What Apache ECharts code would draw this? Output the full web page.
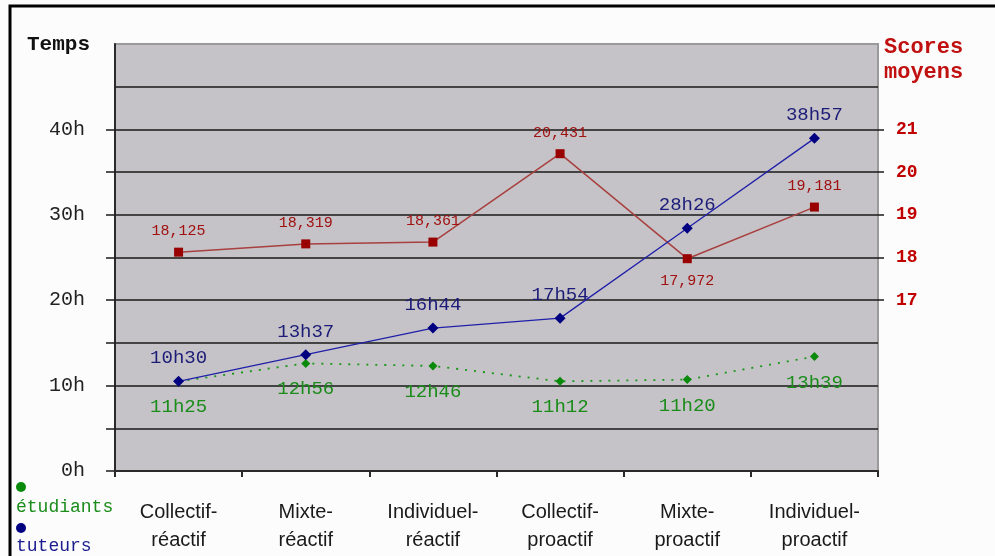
<!DOCTYPE html>
<html>
<head>
<meta charset="utf-8">
<script src="https://cdn.jsdelivr.net/npm/echarts@6/dist/echarts.min.js"></script>
<style>
  html, body { margin: 0; padding: 0; background: #fcfcfc; }
  #chart { width: 995px; height: 556px; }
</style>
</head>
<body>
<div id="chart"></div>
<script>
  // catégories (axe des x)
  var categories = ['Collectif-\nréactif', 'Mixte-\nréactif', 'Individuel-\nréactif',
    'Collectif-\nproactif', 'Mixte-\nproactif', 'Individuel-\nproactif'];

  // temps des tuteurs (heures décimales) et libellés
  var tuteursHours = [10.5, 13.617, 16.733, 17.9, 28.433, 38.95];
  var tuteursLabels = ['10h30', '13h37', '16h44', '17h54', '28h26', '38h57'];

  // temps des étudiants (position) et libellés
  var etudiantsHours = [10.5, 12.6, 12.3, 10.5, 10.7, 13.4];
  var etudiantsLabels = ['11h25', '12h56', '12h46', '11h12', '11h20', '13h39'];

  // scores moyens (axe de droite)
  var scores = [18.125, 18.319, 18.361, 20.431, 17.972, 19.181];

  // graduations
  var leftLabelValues = [0, 10, 20, 30, 40];
  var leftTickValues = [0, 5, 10, 15, 20, 25, 30, 35, 40];
  var rightLabelValues = [17, 18, 19, 20, 21];

  var mono = '"Liberation Mono", "DejaVu Sans Mono", monospace';

  var chart = echarts.init(document.getElementById('chart'));

  var option = {
    animation: false,
    backgroundColor: '#fcfcfc',
    grid: {
      left: 115, right: 117, top: 44, bottom: 85,
      show: true,
      backgroundColor: '#c5c3c7',
      borderColor: '#9a9a9a',
      borderWidth: 2
    },
    xAxis: {
      type: 'category',
      data: categories,
      boundaryGap: true,
      axisLine: { lineStyle: { color: '#2a2a2a', width: 2 } },
      axisTick: { show: true, length: 6, lineStyle: { color: '#2a2a2a', width: 2 } },
      axisLabel: {
        interval: 0,
        margin: 27,
        fontFamily: '"Liberation Sans", Arial, sans-serif',
        fontSize: 20,
        lineHeight: 28,
        color: '#1a1a1a'
      }
    },
    yAxis: [{
      type: 'value',
      min: 0, max: 50, interval: 5,
      axisLine: { show: true, lineStyle: { color: '#2a2a2a', width: 2 } },
      axisTick: { show: true, length: 9, customValues: leftTickValues, lineStyle: { color: '#1a1a1a', width: 1.5 } },
      axisLabel: {
        customValues: leftLabelValues,
        margin: 30,
        fontFamily: mono,
        fontSize: 20,
        color: '#222',
        formatter: function (v) { return v + 'h'; }
      },
      splitLine: { show: false }
    }, {
      type: 'value',
      min: 13, max: 23, interval: 1,
      position: 'right',
      axisLine: { show: false },
      axisTick: { show: true, length: 6, customValues: rightLabelValues, lineStyle: { color: '#1a1a1a', width: 1.5 } },
      axisLabel: {
        customValues: rightLabelValues,
        margin: 18,
        fontFamily: mono,
        fontWeight: 'bold',
        fontSize: 18,
        color: '#c00000'
      },
      splitLine: { show: false }
    }, {
      // axe invisible, seulement pour le quadrillage toutes les 5h
      type: 'value',
      min: 0, max: 50, interval: 5,
      position: 'left',
      axisLine: { show: false },
      axisTick: { show: false },
      axisLabel: { show: false },
      splitLine: { show: true, showMaxLine: false, lineStyle: { color: '#1a1a1a', width: 1.5 } }
    }],
    series: [{
      name: 'scores',
      type: 'line',
      yAxisIndex: 1,
      data: scores.map(function (v, i) {
        return i === 4 ? { value: v, label: { position: 'bottom', distance: 10 } } : v;
      }),
      symbol: 'rect',
      symbolSize: 9,
      itemStyle: { color: '#990000' },
      lineStyle: { color: '#a84040', width: 1.5 },
      label: {
        show: true,
        position: 'top',
        distance: 9,
        fontFamily: mono,
        fontSize: 15,
        color: '#a01010',
        formatter: function (p) { return String(p.value).replace('.', ','); }
      },
      z: 3
    }, {
      name: 'étudiants',
      type: 'line',
      yAxisIndex: 0,
      data: etudiantsHours,
      symbol: 'diamond',
      symbolSize: 9,
      itemStyle: { color: '#0a8a0a' },
      lineStyle: { color: '#1a961a', width: 1.8, type: [2, 7] },
      label: {
        show: true,
        position: 'bottom',
        distance: 12,
        fontFamily: mono,
        fontSize: 19,
        color: '#1a8c1a',
        formatter: function (p) { return etudiantsLabels[p.dataIndex]; }
      },
      z: 4
    }, {
      name: 'tuteurs',
      type: 'line',
      yAxisIndex: 0,
      data: tuteursHours,
      symbol: 'diamond',
      symbolSize: 11,
      itemStyle: { color: '#000080' },
      lineStyle: { color: '#2020a8', width: 1.3 },
      label: {
        show: true,
        position: 'top',
        distance: 8,
        fontFamily: mono,
        fontSize: 19,
        color: '#1c1c78',
        formatter: function (p) { return tuteursLabels[p.dataIndex]; }
      },
      z: 5
    }],
    graphic: [
      { type: 'polyline', shape: { points: [[10, 556], [10, 6], [995, 6]] },
        style: { stroke: '#000', lineWidth: 3, fill: null } },
      { type: 'text', left: 27, top: 34,
        style: { text: 'Temps', font: 'bold 21px ' + mono, fill: '#111' } },
      { type: 'text', left: 884, top: 35,
        style: { text: 'Scores\nmoyens', font: 'bold 22px ' + mono, lineHeight: 25, fill: '#c01010' } },
      { type: 'circle', shape: { cx: 21, cy: 487, r: 5 }, style: { fill: '#0a8a0a' } },
      { type: 'text', left: 16, top: 498,
        style: { text: 'étudiants', font: '18px ' + mono, fill: '#1a8c1a' } },
      { type: 'circle', shape: { cx: 21, cy: 528, r: 5 }, style: { fill: '#000080' } },
      { type: 'text', left: 16, top: 537,
        style: { text: 'tuteurs', font: '18px ' + mono, fill: '#1c1c90' } }
    ]
  };

  chart.setOption(option);
</script>
</body>
</html>
